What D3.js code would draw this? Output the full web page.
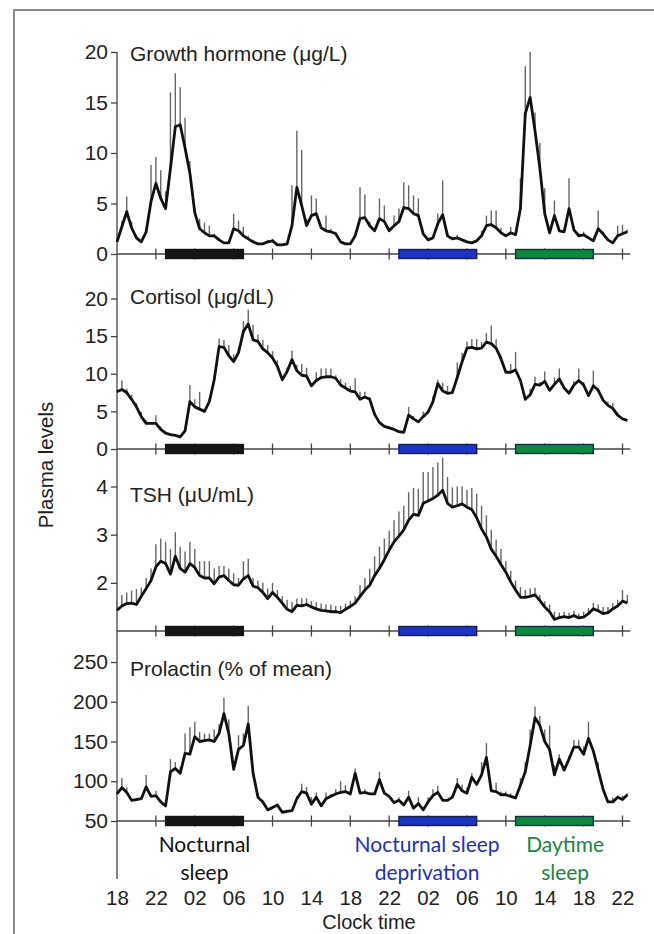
<!DOCTYPE html>
<html>
<head>
<meta charset="utf-8">
<script src="https://cdn.jsdelivr.net/npm/d3@7"></script>
<style>
  body { margin: 0; background: #fff; }
  svg { display: block; font-family: "Liberation Sans", Arial, sans-serif; }
</style>
</head>
<body>
<div id="chart"></div>
<script>
// sample times, hours after 18:00 on day 1 (30 min steps)
const hours = d3.range(0, 53, 0.5)

const xTickHours = [0, 4, 8, 12, 16, 20, 24, 28, 32, 36, 40, 44, 48, 52]
const xTickLabels = ["18", "22", "02", "06", "10", "14", "18", "22", "02", "06", "10", "14", "18", "22"]

// growth hormone (ug/L), mean and upper SEM
const ghMean = [
  1.2, 2.7, 4.2, 2.6, 1.6, 1.2, 2.2, 5.2, 7.0, 5.5,
  4.5, 8.5, 12.6, 12.8, 10.5, 8.0, 4.1, 2.5, 2.1, 1.8,
  1.8, 1.4, 1.1, 1.1, 2.5, 2.3, 1.8, 1.5, 1.2, 1.0,
  1.0, 1.2, 1.3, 0.9, 0.9, 1.0, 2.8, 6.6, 4.8, 2.8,
  3.8, 4.0, 2.6, 2.3, 2.2, 2.0, 1.2, 1.0, 1.0, 1.8,
  3.5, 3.6, 2.8, 2.3, 3.5, 3.2, 2.3, 2.8, 3.2, 4.6,
  4.5, 4.0, 3.8, 2.0, 1.4, 1.6, 3.0, 3.9, 1.8, 1.5,
  1.6, 1.4, 1.2, 1.1, 1.3, 1.8, 2.8, 2.9, 2.6, 2.1,
  1.8, 2.1, 1.9, 4.5, 13.9, 15.5, 12.2, 8.5, 4.0, 2.1,
  3.8, 2.3, 2.2, 4.5, 2.4, 1.8, 1.9, 1.6, 1.3, 2.5,
  2.0, 1.4, 1.1, 1.8, 2.0, 2.2
]
const ghSem = [
  0.2, 0.6, 1.5, 0.6, 0.3, 0.2, 0.3, 3.6, 2.6, 2.8,
  1.7, 7.5, 5.3, 3.7, 3.0, 1.2, 0.4, 1.0, 1.0, 1.0,
  0.2, 0.2, 0.1, 0.1, 1.5, 1.0, 0.9, 0.3, 0.2, 0.1,
  0.1, 0.2, 0.2, 0.1, 0.1, 0.1, 4.0, 5.6, 5.5, 0.7,
  2.0, 1.5, 0.3, 1.5, 0.3, 0.2, 0.1, 0.1, 0.1, 0.3,
  3.1, 2.3, 0.4, 0.3, 2.0, 1.6, 0.3, 1.0, 1.3, 2.5,
  2.3, 1.8, 1.7, 0.3, 0.2, 0.2, 1.0, 3.4, 0.3, 0.2,
  0.3, 0.1, 0.1, 0.1, 0.2, 0.5, 1.0, 1.4, 1.7, 0.5,
  0.2, 0.6, 0.3, 3.0, 4.7, 4.5, 1.8, 2.5, 2.5, 0.3,
  1.5, 0.3, 0.3, 3.0, 0.4, 0.3, 0.3, 0.2, 0.1, 1.8,
  0.2, 0.1, 0.1, 1.0, 0.9, 0.2
]

// cortisol (ug/dL)
const cortMean = [
  7.6, 7.9, 7.5, 6.6, 5.6, 4.3, 3.4, 3.4, 3.4, 2.6,
  2.1, 1.9, 1.8, 1.6, 2.4, 6.3, 5.6, 5.3, 5.0, 6.3,
  9.2, 13.6, 13.5, 12.4, 11.6, 12.8, 15.6, 16.6, 14.5, 14.3,
  13.3, 12.8, 12.1, 11.0, 9.2, 10.3, 11.9, 10.4, 9.8, 9.7,
  8.4, 9.1, 9.5, 9.6, 9.6, 9.4, 8.5, 8.1, 7.7, 7.6,
  6.6, 6.9, 6.6, 4.6, 3.5, 3.0, 2.8, 2.6, 2.3, 2.2,
  4.5, 4.0, 3.6, 4.3, 4.9, 6.3, 8.7, 7.7, 7.4, 7.5,
  9.5, 11.6, 13.4, 13.5, 13.3, 13.4, 14.2, 14.0, 13.4, 12.0,
  10.2, 10.2, 10.5, 9.1, 6.6, 7.2, 8.6, 8.5, 9.0, 7.8,
  8.6, 9.3, 8.1, 7.4, 8.5, 9.1, 8.5, 7.1, 8.4, 7.8,
  6.5, 5.8, 5.4, 4.5, 4.0, 3.8
]
const cortSem = [
  0.3, 1.2, 0.5, 0.6, 0.5, 0.6, 0.4, 0.2, 1.1, 0.4,
  0.2, 0.2, 0.2, 0.2, 0.3, 2.2, 1.0, 2.3, 0.3, 0.4,
  0.5, 1.1, 1.0, 1.4, 1.0, 0.7, 1.4, 1.9, 2.0, 0.9,
  1.2, 1.0, 0.9, 0.8, 0.3, 0.5, 1.2, 0.8, 1.5, 1.1,
  0.3, 1.1, 1.2, 1.1, 1.1, 0.4, 0.8, 0.7, 0.7, 1.8,
  1.0, 0.7, 0.3, 0.3, 0.2, 0.2, 0.2, 0.2, 0.1, 0.1,
  1.1, 0.4, 0.2, 0.7, 0.3, 0.7, 0.5, 1.1, 1.0, 0.5,
  2.0, 1.2, 0.9, 1.1, 1.3, 0.8, 1.2, 2.4, 1.2, 0.4,
  0.3, 1.1, 2.4, 0.3, 0.3, 0.8, 1.0, 0.4, 1.3, 0.3,
  0.9, 1.4, 0.3, 0.3, 0.5, 1.6, 0.4, 0.3, 2.0, 0.3,
  0.3, 0.5, 0.7, 0.3, 0.1, 0.1
]

// TSH (uU/mL)
const tshMean = [
  1.43, 1.52, 1.57, 1.58, 1.55, 1.72, 1.88, 2.05, 2.33, 2.45,
  2.40, 2.18, 2.55, 2.30, 2.22, 2.40, 2.32, 2.15, 2.10, 2.10,
  1.98, 2.12, 2.15, 2.05, 1.96, 1.95, 2.08, 2.15, 1.93, 1.90,
  1.80, 1.67, 1.80, 1.70, 1.58, 1.45, 1.40, 1.53, 1.52, 1.55,
  1.50, 1.46, 1.43, 1.42, 1.40, 1.40, 1.38, 1.45, 1.51, 1.58,
  1.72, 1.85, 1.95, 2.15, 2.30, 2.48, 2.68, 2.85, 2.97, 3.10,
  3.30, 3.42, 3.40, 3.65, 3.70, 3.75, 3.82, 3.92, 3.65, 3.57,
  3.60, 3.64, 3.57, 3.52, 3.35, 3.12, 2.95, 2.70, 2.55, 2.38,
  2.22, 2.02, 1.85, 1.70, 1.70, 1.72, 1.75, 1.63, 1.50, 1.40,
  1.24, 1.28, 1.30, 1.28, 1.32, 1.27, 1.29, 1.36, 1.46, 1.42,
  1.36, 1.38, 1.46, 1.52, 1.62, 1.58
]
const tshSem = [
  0.17, 0.23, 0.23, 0.26, 0.32, 0.18, 0.22, 0.25, 0.47, 0.47,
  0.45, 0.52, 0.50, 0.45, 0.43, 0.45, 0.38, 0.30, 0.35, 0.35,
  0.32, 0.23, 0.20, 0.25, 0.24, 0.15, 0.37, 0.35, 0.17, 0.15,
  0.20, 0.21, 0.20, 0.15, 0.14, 0.20, 0.20, 0.14, 0.16, 0.13,
  0.12, 0.14, 0.14, 0.13, 0.15, 0.12, 0.14, 0.12, 0.12, 0.14,
  0.23, 0.25, 0.34, 0.40, 0.45, 0.44, 0.40, 0.45, 0.51, 0.50,
  0.58, 0.55, 0.55, 0.65, 0.60, 0.65, 0.68, 0.68, 0.55, 0.41,
  0.40, 0.36, 0.36, 0.45, 0.50, 0.48, 0.45, 0.40, 0.35, 0.32,
  0.23, 0.23, 0.20, 0.21, 0.15, 0.16, 0.15, 0.12, 0.12, 0.15,
  0.16, 0.10, 0.10, 0.10, 0.10, 0.09, 0.11, 0.12, 0.12, 0.13,
  0.14, 0.12, 0.12, 0.13, 0.23, 0.17
]

// prolactin (% of mean)
const prlMean = [
  84, 92, 86, 76, 77, 78, 93, 81, 82, 74,
  69, 112, 116, 110, 135, 134, 156, 150, 151, 152,
  150, 160, 185, 160, 115, 140, 145, 172, 110, 80,
  74, 64, 67, 70, 61, 62, 63, 78, 87, 85,
  71, 80, 69, 78, 81, 84, 86, 87, 84, 110,
  85, 86, 84, 84, 102, 85, 81, 73, 76, 70,
  80, 66, 72, 64, 74, 82, 86, 76, 76, 80,
  96, 88, 85, 105, 96, 108, 130, 88, 87, 83,
  83, 81, 79, 95, 112, 145, 180, 170, 150, 140,
  108, 128, 114, 128, 143, 143, 134, 154, 138, 114,
  90, 74, 74, 80, 77, 83
]
const prlSem = [
  3, 12, 6, 2, 2, 3, 15, 3, 6, 2,
  2, 16, 8, 8, 25, 34, 19, 12, 9, 8,
  15, 12, 20, 18, 7, 18, 15, 23, 8, 3,
  2, 2, 2, 2, 2, 2, 2, 3, 10, 8,
  9, 6, 2, 8, 3, 6, 14, 8, 3, 6,
  3, 4, 2, 3, 10, 3, 2, 2, 4, 2,
  8, 2, 8, 2, 6, 8, 8, 2, 2, 3,
  8, 8, 7, 5, 3, 16, 18, 6, 11, 4,
  4, 4, 2, 9, 12, 20, 14, 12, 15, 30,
  12, 6, 3, 4, 9, 9, 10, 21, 4, 10,
  3, 2, 6, 2, 5, 2
]

// sleep / wake conditions (hours after 18:00 day 1)
const sleepStart = [5, 29, 41]
const sleepEnd = [13, 37, 49]
const sleepLabels = [["Nocturnal", "sleep"], ["Nocturnal sleep", "deprivation"], ["Daytime", "sleep"]]

const width = 654, height = 934
const font = "'Liberation Sans', Arial, sans-serif"

const svg = d3.select("#chart").append("svg")
  .attr("width", width)
  .attr("height", height)

svg.append("rect")
  .attr("x", 14).attr("y", 10)
  .attr("width", 700).attr("height", 960)
  .attr("fill", "none")
  .attr("stroke", "#8c8c8c")
  .attr("stroke-width", 2)

const x = d3.scaleLinear().domain([0, 52]).range([117, 622.5])
const axisX = x(0)

const panels = [
  { title: "Growth hormone (\u03bcg/L)", mean: ghMean, sem: ghSem, domain: [0, 20], ticks: [0, 5, 10, 15, 20], top: 52, base: 254, titleY: 61 },
  { title: "Cortisol (\u03bcg/dL)", mean: cortMean, sem: cortSem, domain: [0, 20], ticks: [0, 5, 10, 15, 20], top: 298.5, base: 449, titleY: 304 },
  { title: "TSH (\u03bcU/mL)", mean: tshMean, sem: tshSem, domain: [1, 4], ticks: [2, 3, 4], top: 486.5, base: 631, titleY: 502 },
  { title: "Prolactin (% of mean)", mean: prlMean, sem: prlSem, domain: [50, 250], ticks: [50, 100, 150, 200, 250], top: 662, base: 821, titleY: 676 }
]

const barFill = ["#151515", "#1c33c4", "#0b8a3f"]
const barStroke = ["#151515", "#14204f", "#153040"]
const labelColor = ["#111", "#1f2fc2", "#14893c"]

// vertical axis shared by all panels
svg.append("line")
  .attr("x1", axisX).attr("x2", axisX)
  .attr("y1", panels[0].top).attr("y2", 879)
  .attr("stroke", "#444").attr("stroke-width", 1.3)

panels.forEach(p => {
  const y = d3.scaleLinear().domain(p.domain).range([p.base, p.top])
  const g = svg.append("g")

  const pts = hours.map((h, i) => ({ h: h, v: p.mean[i], s: p.sem[i] }))

  // upper SEM bars
  g.selectAll(".err")
    .data(pts)
    .enter().append("line")
    .attr("x1", d => x(d.h)).attr("x2", d => x(d.h))
    .attr("y1", d => y(d.v)).attr("y2", d => y(d.v + d.s))
    .attr("stroke", "#666")
    .attr("stroke-width", 1.4)

  g.append("path")
    .datum(pts)
    .attr("fill", "none")
    .attr("stroke", "#111")
    .attr("stroke-width", 2.8)
    .attr("stroke-linejoin", "round")
    .attr("d", d3.line().x(d => x(d.h)).y(d => y(d.v)))

  // y axis ticks and labels
  const ax = g.append("g")
    .attr("transform", "translate(" + axisX + ",0)")
    .call(d3.axisLeft(y).tickValues(p.ticks).tickFormat(d3.format("d")).tickSize(6).tickPadding(3).tickSizeOuter(0))
  ax.select(".domain").remove()
  ax.selectAll("line").attr("stroke", "#444").attr("stroke-width", 1.3)
  ax.selectAll("text")
    .attr("font-size", 21)
    .attr("font-family", font)
    .attr("fill", "#222")

  // baseline with 4 h ticks
  g.append("line")
    .attr("x1", axisX).attr("x2", x(52.8))
    .attr("y1", p.base).attr("y2", p.base)
    .attr("stroke", "#444").attr("stroke-width", 1.3)
  g.selectAll(".bt")
    .data(xTickHours.slice(1))
    .enter().append("line")
    .attr("x1", d => x(d)).attr("x2", d => x(d))
    .attr("y1", p.base - 5.5).attr("y2", p.base + 5.5)
    .attr("stroke", "#444").attr("stroke-width", 1.3)

  // sleep bars
  g.selectAll(".sleep")
    .data(sleepStart)
    .enter().append("rect")
    .attr("x", d => x(d))
    .attr("width", (d, i) => x(sleepEnd[i]) - x(d))
    .attr("y", p.base - 4.5)
    .attr("height", 9)
    .attr("fill", (d, i) => barFill[i])
    .attr("stroke", (d, i) => barStroke[i])
    .attr("stroke-width", 1.4)

  g.append("text")
    .attr("x", 130).attr("y", p.titleY)
    .attr("font-size", 21)
    .attr("font-family", font)
    .attr("fill", "#222")
    .text(p.title)
})

// condition labels under the bottom panel
const labelHour = [9, 31.9, 46.1]
sleepLabels.forEach((lines, i) => {
  svg.append("text")
    .attr("text-anchor", "middle")
    .attr("font-family", "Lato, 'Open Sans', sans-serif")
    .attr("font-size", 21)
    .attr("fill", labelColor[i])
    .selectAll("tspan")
    .data(lines)
    .enter().append("tspan")
    .attr("x", x(labelHour[i]))
    .attr("y", (d, j) => 852 + j * 28)
    .text(d => d)
})

// clock time axis
const xa = svg.append("g")
  .attr("transform", "translate(0,886)")
  .call(d3.axisBottom(x).tickValues(xTickHours).tickFormat((d, i) => xTickLabels[i]).tickSize(0).tickPadding(4))
xa.select(".domain").remove()
xa.selectAll("text")
  .attr("font-size", 20.5)
  .attr("font-family", font)
  .attr("fill", "#222")

svg.append("text")
  .attr("x", 369).attr("y", 929)
  .attr("text-anchor", "middle")
  .attr("font-size", 20)
  .attr("font-family", font)
  .attr("fill", "#222")
  .text("Clock time")

svg.append("text")
  .attr("transform", "translate(53,465) rotate(-90)")
  .attr("text-anchor", "middle")
  .attr("font-size", 20.5)
  .attr("font-family", font)
  .attr("fill", "#222")
  .text("Plasma levels")
</script>
</body>
</html>
